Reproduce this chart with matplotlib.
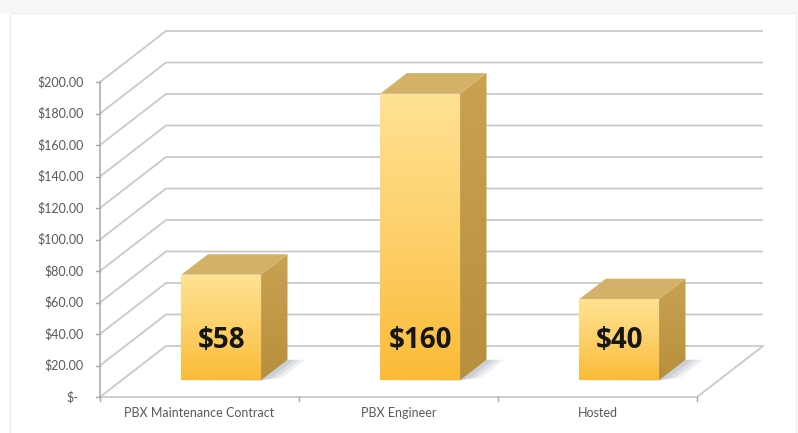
import numpy as np
import matplotlib
matplotlib.use("Agg")
import matplotlib.pyplot as plt
from matplotlib.patches import Polygon, Rectangle
from matplotlib.colors import LinearSegmentedColormap

# ---------------- data ----------------
categories = ["PBX Maintenance Contract", "PBX Engineer", "Hosted"]
values = [67, 182, 51.5]            # bar heights as drawn on the value axis
value_labels = ["$58", "$160", "$40"]  # labels printed on the bars
y_ticks = [0, 20, 40, 60, 80, 100, 120, 140, 160, 180, 200]
y_tick_labels = ["$-", "$20.00", "$40.00", "$60.00", "$80.00", "$100.00",
                 "$120.00", "$140.00", "$160.00", "$180.00", "$200.00"]

# ---------------- style / geometry ----------------
W, H = 798, 433
DPI = 100
PX_X = 199.0     # pixels per category
PX_Y = 1.575     # pixels per dollar
X0_PX, Y0_PX = 100, 397
DX = 66 / PX_X   # depth offset (category units)
DY = 51 / PX_Y   # depth offset (value units)
T1, T2 = 0.33, 0.73     # bar front/back depth fraction
BAR_W = 0.40
GRID = "#c9c9c9"
TEXT_GRAY = "#595959"

fig = plt.figure(figsize=(W / DPI, H / DPI), dpi=DPI)
ax = fig.add_axes([0, 0, 1, 1])
xlim = (-X0_PX / PX_X, (W - X0_PX) / PX_X)
ylim = ((Y0_PX - H) / PX_Y, Y0_PX / PX_Y)
ax.axis("off")

# faint outer frame
fig.patches.append(Rectangle((0, 0.97), 1, 0.03, transform=fig.transFigure,
                             facecolor="#f7f7f7", edgecolor="none", zorder=-5))
fig.patches.append(Rectangle((0.013, -0.01), 0.984, 0.98, transform=fig.transFigure,
                             facecolor="white", edgecolor="#efefef", lw=1, zorder=-4))


def proj(x, y, t):
    return x + t * DX, y + t * DY


n = len(categories)
ymax = y_ticks[-1]

# gridlines: left wall diagonals + back wall horizontals
for v in y_ticks:
    p0 = proj(0, v, 0)
    p1 = proj(0, v, 1)
    p2 = proj(n, v, 1)
    ax.plot([p0[0], p1[0], p2[0]], [p0[1], p1[1], p2[1]], color=GRID, lw=1.3,
            solid_capstyle="butt", zorder=1)
# floor
f = [proj(0, 0, 0), proj(n, 0, 0), proj(n, 0, 1)]
ax.plot([p[0] for p in f], [p[1] for p in f], color=GRID, lw=1.3, zorder=1)

# value axis
ax.plot([0, 0], [0, ymax], color="#a8a8a8", lw=1.1, zorder=2)
tick_len_x = 4 / PX_X
tick_len_y = 4 / PX_Y
for v, lab in zip(y_ticks, y_tick_labels):
    ax.plot([-tick_len_x, 0], [v, v], color="#a8a8a8", lw=1.0, zorder=2)
    pad = 22 if lab == "$-" else 16
    ax.text(-pad / PX_X, v, lab, ha="right", va="center", fontsize=9,
            color=TEXT_GRAY, family=["Lato", "DejaVu Sans"])
for i in range(n + 1):
    ax.plot([i, i], [0, -tick_len_y], color="#a8a8a8", lw=1.0, zorder=2)
for i, c in enumerate(categories):
    ax.text(i + 0.5, -16 / PX_Y, c, ha="center", va="center", fontsize=9,
            color=TEXT_GRAY, family=["Lato", "DejaVu Sans"])

front_cmap = LinearSegmentedColormap.from_list("front", ["#fbbb37", "#fdd06a", "#ffe293"])
side_cmap = LinearSegmentedColormap.from_list("side", ["#b88f3c", "#c9a252"])
grad = np.linspace(0, 1, 256).reshape(-1, 1)


def grad_fill(poly_pts, cmap, z):
    xs = [p[0] for p in poly_pts]
    ys = [p[1] for p in poly_pts]
    patch = Polygon(poly_pts, closed=True, facecolor="none", edgecolor="none")
    ax.add_patch(patch)
    im = ax.imshow(grad, cmap=cmap, origin="lower", aspect="auto",
                   extent=(min(xs), max(xs), min(ys), max(ys)), zorder=z,
                   interpolation="bilinear")
    im.set_clip_path(patch)


for i, (v, lab) in enumerate(zip(values, value_labels)):
    xl = i + 0.5 - BAR_W / 2
    xr = i + 0.5 + BAR_W / 2
    # soft shadow on the floor, right/behind the bar
    for k, a in zip([1.0, 0.7, 0.4], [0.12, 0.14, 0.18]):
        sx = 18 / PX_X * k
        sh = [proj(xl - 2 / PX_X, 0, T1), proj(xr, 0, T1 - 0.01),
              proj(xr + sx, 0, T1 + 0.05), proj(xr + sx, 0, T2),
              proj(xr, 0, T2)]
        ax.add_patch(Polygon(sh, closed=True, facecolor="#7b8799", alpha=a,
                             edgecolor="none", zorder=3))
    side = [proj(xr, 0, T1), proj(xr, v, T1), proj(xr, v, T2), proj(xr, 0, T2)]
    grad_fill(side, side_cmap, 4)
    top = [proj(xl, v, T1), proj(xr, v, T1), proj(xr, v, T2), proj(xl, v, T2)]
    ax.add_patch(Polygon(top, closed=True, facecolor="#d3b169", edgecolor="none", zorder=4))
    front = [proj(xl, 0, T1), proj(xr, 0, T1), proj(xr, v, T1), proj(xl, v, T1)]
    grad_fill(front, front_cmap, 5)
    cx, _ = proj(i + 0.5, 0, T1)
    ax.text(cx, 36, lab, ha="center", va="center", fontsize=20, fontweight="bold",
            color="#161616", family=["Open Sans", "DejaVu Sans"], zorder=6)

ax.set_xlim(*xlim)
ax.set_ylim(*ylim)
fig.savefig("out.png", dpi=DPI)
